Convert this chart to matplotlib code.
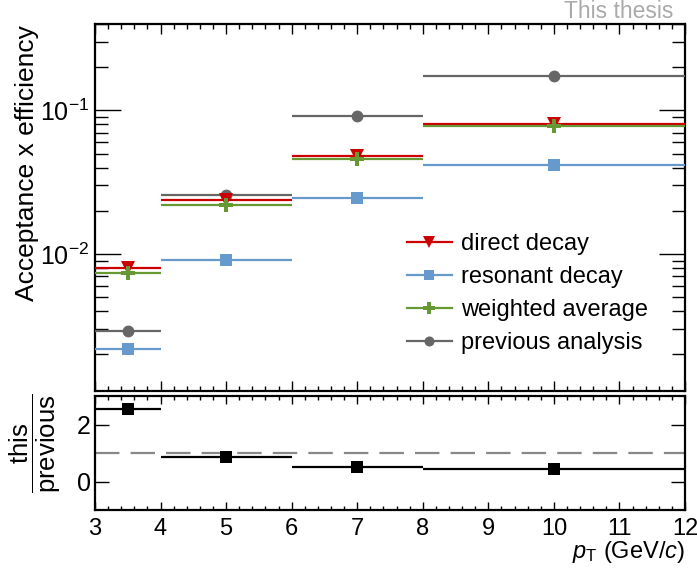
import numpy as np
import matplotlib
matplotlib.use("Agg")
import matplotlib.pyplot as plt
from matplotlib.lines import Line2D
from matplotlib.ticker import LogLocator, FixedLocator, MultipleLocator, NullFormatter, LogFormatterMathtext

plt.rcParams['font.family'] = ['Liberation Sans', 'DejaVu Sans']
plt.rcParams['mathtext.fontset'] = 'custom'
plt.rcParams['mathtext.rm'] = 'Liberation Sans'
plt.rcParams['mathtext.it'] = 'Liberation Sans:italic'
plt.rcParams['mathtext.bf'] = 'Liberation Sans:bold'

# pT bins (GeV/c)
bin_lo = [3, 4, 6, 8]
bin_hi = [4, 6, 8, 12]
bin_center = [3.5, 5, 7, 10]

# acceptance x efficiency
direct_decay = [0.0080, 0.0236, 0.0483, 0.0807]
resonant_decay = [0.00216, 0.00913, 0.0244, 0.0418]
weighted_average = [0.00741, 0.0221, 0.0460, 0.0773]
previous_analysis = [0.00292, 0.0258, 0.0918, 0.1726]

# ratio this / previous
ratio = [2.54, 0.86, 0.50, 0.45]

x = np.array(bin_center)
xerr = np.array([np.array(bin_center) - np.array(bin_lo), np.array(bin_hi) - np.array(bin_center)])

W, H = 697, 574
fig = plt.figure(figsize=(W / 100, H / 100), dpi=100)

def fx(px):
    return px / W

def fy(py):
    return 1 - py / H

ax = fig.add_axes([fx(95), fy(391), fx(685) - fx(95), fy(24) - fy(391)])
axr = fig.add_axes([fx(95), fy(510), fx(685) - fx(95), fy(396) - fy(510)], sharex=ax)

series = [
    ("previous analysis", previous_analysis, '#666666', 'o', 8.5),
    ("resonant decay", resonant_decay, '#6699cc', 's', 9),
    ("direct decay", direct_decay, '#cc0000', 'v', 9.5),
    ("weighted average", weighted_average, '#669933', 'P', 10),
]
handles = {}
for i, (lab, vals, col, mk, ms) in enumerate(series):
    ax.errorbar(x, vals, xerr=xerr, fmt=mk, color=col, ms=ms, mew=0,
                elinewidth=1.6, capsize=0, zorder=3 + i)
    handles[lab] = Line2D([], [], color=col, marker=mk, ms=ms * 0.85, mew=0, lw=1.6)

ax.set_yscale('log')
ax.set_xlim(3, 12)
ax.set_ylim(0.00111, 0.40)

for spine in ax.spines.values():
    spine.set_linewidth(1.6)
for spine in axr.spines.values():
    spine.set_linewidth(1.6)

ax.yaxis.set_major_locator(LogLocator(base=10, numticks=10))
ax.yaxis.set_minor_locator(LogLocator(base=10, subs=np.arange(2, 10), numticks=20))
ax.yaxis.set_major_formatter(LogFormatterMathtext())
ax.yaxis.set_minor_formatter(NullFormatter())
ax.xaxis.set_major_locator(MultipleLocator(1))
ax.xaxis.set_minor_locator(MultipleLocator(0.2))

ax.tick_params(axis='y', which='major', direction='in', length=19, width=1.0,
               left=True, right=True, labelsize=18, pad=4)
ax.tick_params(axis='y', which='minor', direction='in', length=9.5, width=1.0,
               left=True, right=True)
ax.tick_params(axis='x', which='major', direction='in', length=7, width=1.0,
               top=True, bottom=True, labelbottom=False)
ax.tick_params(axis='x', which='minor', direction='in', length=3.6, width=1.0,
               top=True, bottom=True)

order = ["direct decay", "resonant decay", "weighted average", "previous analysis"]
ax_w = fx(685) - fx(95)
ax_h = fy(24) - fy(391)
leg = ax.legend([handles[k] for k in order], order, loc='upper left',
                bbox_to_anchor=(fx(407 - 95) / ax_w, 1 - ((233 - 24) / H) / ax_h),
                frameon=False, fontsize=17, handlelength=1.9, handletextpad=0.38,
                labelspacing=0.47, borderaxespad=0, borderpad=0)

# ratio panel
axr.errorbar(x, ratio, xerr=xerr, fmt='s', color='black', ms=9, mew=0,
             elinewidth=1.6, capsize=0, zorder=3)
axr.axhline(1, color='#888888', lw=1.6, dashes=(11, 5), zorder=2)
axr.set_ylim(-1, 3)
axr.yaxis.set_major_locator(FixedLocator([0, 2]))
axr.tick_params(axis='y', which='major', direction='in', length=10, width=1.0,
                left=True, right=True, labelsize=18, pad=3)
axr.tick_params(axis='y', which='minor', left=False, right=False)
axr.tick_params(axis='x', which='major', direction='in', length=6, width=1.0,
                top=True, bottom=True, labelsize=17, pad=6)
axr.tick_params(axis='x', which='minor', direction='in', length=3, width=1.0,
                top=True, bottom=True)
axr.set_xticks(range(3, 13))
axr.set_xlim(3, 12)

# axis titles
fig.text(fx(27), fy(25), 'Acceptance x efficiency', rotation=90,
         ha='center', va='top', fontsize=19)
fig.text(fx(35), fy(443), r'$\dfrac{\mathrm{this}}{\mathrm{previous}}$', rotation=90,
         ha='center', va='center', fontsize=18.5)
fig.text(fx(685), fy(558), r'$p_{\mathrm{T}}$ (GeV/$c$)', ha='right', va='baseline',
         fontsize=17)
fig.text(fx(673), fy(17.5), 'This thesis', ha='right', va='baseline',
         fontsize=16.5, color='#aaaaaa')

fig.savefig('out.png', dpi=100)
